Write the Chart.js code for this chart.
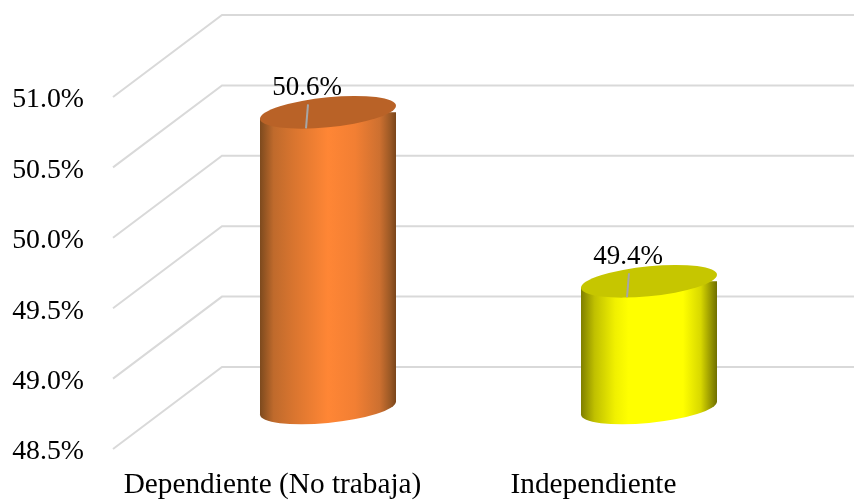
<!DOCTYPE html>
<html><head><meta charset="utf-8">
<style>html,body{margin:0;padding:0;background:#fff}#w{width:854px;height:502px}</style>
<script src="https://cdn.jsdelivr.net/npm/chart.js@4"></script></head>
<body><div id="w"><canvas id="c" width="854" height="502"></canvas></div>
<script>
const categories = ["Dependiente (No trabaja)", "Independiente"];
const values = [50.6, 49.4];
const axisMin = 48.5, axisMax = 51, axisStep = 0.5;
const sideStops = [
  [[0,"#7d4a1e"],[0.1,"#bf6a2c"],[0.25,"#d9752f"],[0.5,"#ff8635"],[0.7,"#f27f33"],[0.88,"#cd7030"],[0.96,"#9a5825"],[1,"#7a451a"]],
  [[0,"#7f7f00"],[0.1,"#c0c000"],[0.25,"#f0f000"],[0.35,"#ffff00"],[0.75,"#ffff00"],[0.88,"#d8d800"],[1,"#6f6f00"]]
];
const capColors = ["#b96227", "#c6c600"];
const FONT = "'Liberation Serif'";
const DEPTH_X = 109, DEPTH_Y = -82, SHIFT_X = 54.5, SHIFT_Y = -41, RY = 15, SLOPE = -0.0955;

function grad(ctx, l, r, stops){
  const g = ctx.createLinearGradient(l,0,r,0);
  stops.forEach(s=>g.addColorStop(s[0],s[1]));
  return g;
}
function shearedEllipse(ctx, cx, cy, rx, fill){
  ctx.save();
  ctx.transform(1, SLOPE, 0, 1, cx, cy);
  ctx.fillStyle = fill;
  ctx.beginPath();ctx.ellipse(0,0,rx,RY,0,0,Math.PI*2);ctx.fill();
  ctx.restore();
}
const cyl = {
  id:'cyl',
  beforeDraw(chart){
    const {ctx,chartArea:a,scales:{y}} = chart;
    ctx.save();
    ctx.strokeStyle="#d9d9d9"; ctx.lineWidth=2; ctx.lineJoin="miter";
    y.ticks.forEach(t=>{
      const p=y.getPixelForValue(t.value);
      ctx.beginPath();ctx.moveTo(a.left,p);ctx.lineTo(a.left+DEPTH_X,p+DEPTH_Y);ctx.lineTo(854,p+DEPTH_Y);ctx.stroke();
    });
    ctx.restore();
  },
  beforeDatasetDraw(chart){
    const {ctx}=chart, els=chart.getDatasetMeta(0).data;
    ctx.save();
    ctx.translate(SHIFT_X,SHIFT_Y);
    els.forEach((b,i)=>{
      const rx=b.width/2, dy=SLOPE*rx;
      shearedEllipse(ctx,b.x,b.base,rx,grad(ctx,-rx,rx,sideStops[i]));
      const g=grad(ctx,b.x-rx,b.x+rx,sideStops[i]);
      ctx.fillStyle=g;
      ctx.beginPath();ctx.moveTo(b.x-rx,b.base-dy);ctx.lineTo(b.x+rx,b.base+dy);ctx.lineTo(b.x+rx,b.base-12);ctx.lineTo(b.x-rx,b.base-12);ctx.closePath();ctx.fill();
      b.options.backgroundColor=g;
    });
    ctx.beginPath();
    els.forEach(b=>{
      const rx=b.width/2, dy=SLOPE*rx;
      ctx.moveTo(b.x-rx,b.y-dy);ctx.lineTo(b.x+rx,b.y+dy);ctx.lineTo(b.x+rx,b.base+dy);ctx.lineTo(b.x-rx,b.base-dy);ctx.closePath();
    });
    ctx.clip();
  },
  afterDatasetDraw(chart){
    const {ctx}=chart, els=chart.getDatasetMeta(0).data;
    ctx.restore();
    ctx.save();
    ctx.translate(SHIFT_X,SHIFT_Y);
    els.forEach((b,i)=>{
      const rx=b.width/2;
      shearedEllipse(ctx,b.x,b.y,rx,capColors[i]);
      ctx.strokeStyle="#a6a6a6";ctx.lineWidth=2;
      ctx.beginPath();ctx.moveTo(b.x-22,b.y+16);ctx.lineTo(b.x-20,b.y-8);ctx.stroke();
      ctx.fillStyle="#000";ctx.font="27px "+FONT;ctx.textAlign="center";ctx.textBaseline="middle";
      ctx.fillText(values[i].toFixed(1)+"%",b.x-21,b.y-24);
    });
    ctx.restore();
  }
};
new Chart(document.getElementById('c'),{
  type:'bar',
  data:{labels:categories,datasets:[{data:values,base:axisMin,backgroundColor:capColors,
      barPercentage:1,categoryPercentage:0.4237,borderWidth:0,clip:false}]},
  options:{
    responsive:false,animation:false,
    layout:{padding:{left:0,right:99,top:97,bottom:0}},
    plugins:{legend:{display:false},tooltip:{enabled:false}},
    scales:{
      x:{grid:{display:false,drawTicks:false},border:{display:false},
         afterFit(s){s.height=53;},
         ticks:{color:"#000",font:{family:FONT,size:29.3},padding:19,labelOffset:-1,maxRotation:0}},
      y:{min:axisMin,max:axisMax,grid:{display:false,drawTicks:false},border:{display:false},
         afterFit(s){s.width=113;},
         ticks:{stepSize:axisStep,color:"#000",font:{family:FONT,size:27.8},padding:29,labelOffset:3,callback:v=>v.toFixed(1)+"%"}}
    }
  },
  plugins:[cyl]
});
</script></body></html>
